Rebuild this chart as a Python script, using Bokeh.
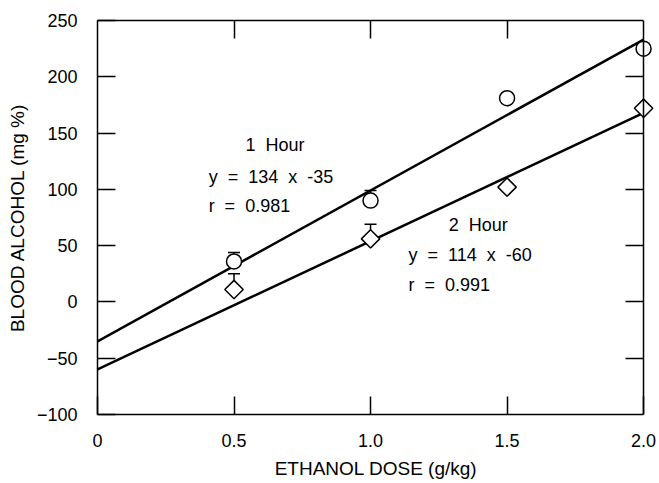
import math
from bokeh.plotting import figure
from bokeh.models import (LinearAxis, FixedTicker, Range1d, Whisker, TeeHead,
                          ColumnDataSource)
from bokeh.core.properties import value
from bokeh.embed import file_html
from bokeh.resources import INLINE

# ---- data ----
dose = [0.5, 1.0, 1.5, 2.0]
hour1 = [36, 90, 181, 225]
hour2 = [11, 56, 102, 172]
err_x = [0.5, 1.0]
hour1_err_upper = [44, 99]
hour1_err_base = [36, 90]
hour2_err_upper = [25, 69]
hour2_err_base = [11, 56]
slope = [134, 114]
intercept = [-35, -60]
x_ticks = [0, 0.5, 1.0, 1.5, 2.0]
x_tick_labels = ["0", "0.5", "1.0", "1.5", "2.0"]
y_ticks = [-100, -50, 0, 50, 100, 150, 200, 250]
x_min, x_max = 0, 2.0
y_min, y_max = -100, 250

FONT = "Liberation Sans"
SP = "\u00a0 "  # wide gap as in the original typesetting

p = figure(width=659, height=483, output_backend="svg", toolbar_location=None,
           x_range=Range1d(x_min, 2.04), y_range=Range1d(y_min, y_max),
           min_border_left=97, min_border_right=5, min_border_top=20,
           min_border_bottom=69)
p.grid.visible = False
p.outline_line_color = None

for ax in (p.xaxis[0], p.yaxis[0]):
    ax.major_tick_in = 18
    ax.major_tick_out = 0
    ax.minor_tick_line_color = None
    ax.major_tick_line_width = 1.5
    ax.major_tick_line_color = "black"
    ax.axis_line_width = 1.5
    ax.axis_line_color = "black"
    ax.major_label_text_font = FONT
    ax.major_label_text_font_size = "18px"
    ax.major_label_text_color = "black"
    ax.axis_label_text_font = FONT
    ax.axis_label_text_font_size = "19px"
    ax.axis_label_text_font_style = "normal"
    ax.axis_label_text_color = "black"

p.xaxis[0].ticker = FixedTicker(ticks=x_ticks)
p.xaxis[0].bounds = (x_min, x_max)
p.xaxis[0].major_label_overrides = dict(zip(x_ticks, x_tick_labels))
p.xaxis[0].major_label_standoff = 19
p.xaxis[0].axis_label = "ETHANOL DOSE (g/kg)"
p.xaxis[0].axis_label_standoff = 8

p.yaxis[0].ticker = FixedTicker(ticks=y_ticks)
p.yaxis[0].major_label_standoff = 20
p.yaxis[0].axis_label = "BLOOD ALCOHOL (mg %)"
p.yaxis[0].axis_label_standoff = 6

top = LinearAxis(ticker=FixedTicker(ticks=[0.5, 1.0, 1.5]), bounds=(x_min, x_max))
right = LinearAxis(ticker=FixedTicker(ticks=[-50, 0, 50, 100, 150, 200]),
                   fixed_location=x_max)
for ax in (top, right):
    ax.major_tick_in = 18
    ax.major_tick_out = 0
    ax.minor_tick_line_color = None
    ax.major_tick_line_width = 1.5
    ax.major_tick_line_color = "black"
    ax.axis_line_width = 1.5
    ax.axis_line_color = "black"
    ax.major_label_text_font_size = "1px"
    ax.major_label_text_color = None
    ax.major_label_standoff = 0
p.add_layout(top, "above")
p.add_layout(right, "right")

# regression lines
x_line = [x_min, x_max]
for m, b in zip(slope, intercept):
    p.line(x_line, [m * x + b for x in x_line], line_color="black", line_width=2.5)

# error bars (upper only)
for base, upper in ((hour1_err_base, hour1_err_upper), (hour2_err_base, hour2_err_upper)):
    src = ColumnDataSource(dict(x=err_x, lower=base, upper=upper))
    p.add_layout(Whisker(source=src, base="x", lower="lower", upper="upper",
                         line_color="black", line_width=1.5,
                         upper_head=TeeHead(size=12, line_width=1.5, line_color="black"),
                         lower_head=None))

p.scatter(dose, hour1, marker="circle", size=15, fill_color="white",
          line_color="black", line_width=1.5)
p.scatter(dose, hour2, marker="square", size=13, angle=math.pi / 4,
          fill_color="white", line_color="black", line_width=1.5)

# annotations
ann_words = [["1", "Hour"], ["y", "=", "134", "x", "-35"], ["r", "=", "0.981"],
             ["2", "Hour"], ["y", "=", "114", "x", "-60"], ["r", "=", "0.991"]]
ann_text = [SP.join(w) for w in ann_words]
ann_x = [0.542, 0.407, 0.407, 1.286, 1.139, 1.139]
ann_y = [139, 110.6, 85, 68, 41.3, 14.7]
p.text(ann_x, ann_y, text=ann_text, text_font=value(FONT), text_font_size="18px",
       text_align="left", text_baseline="middle", text_color="black")

open("out.html", "w").write(file_html(p, INLINE))
